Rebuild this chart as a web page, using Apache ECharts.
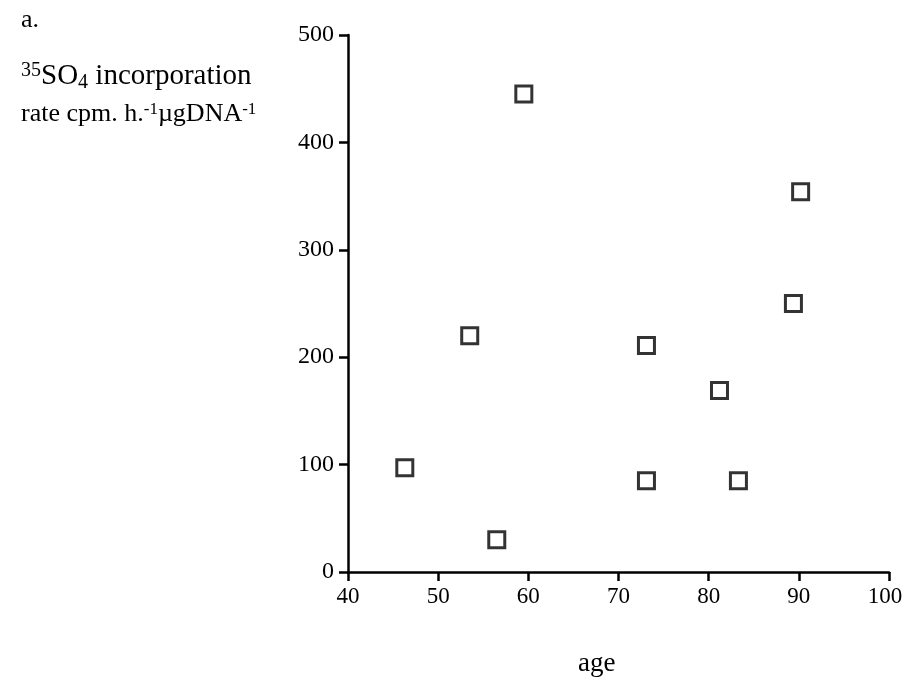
<!DOCTYPE html>
<html>
<head>
<meta charset="utf-8">
<script src="https://cdn.jsdelivr.net/npm/echarts@6/dist/echarts.min.js"></script>
<style>
html,body{margin:0;padding:0;background:#fff;}
#chart{width:904px;height:684px;}
</style>
</head>
<body>
<div id="chart"></div>
<script>
// Age of donor vs. sulphate incorporation rate
const ages = [46.3, 53.5, 56.5, 59.5, 73.1, 73.1, 81.2, 83.3, 89.4, 90.2];
const rates = [97, 220, 30, 445, 211, 85, 169, 85, 250, 354];
const xTicks = [40, 50, 60, 70, 80, 90, 100];
const yTicks = [0, 100, 200, 300, 400, 500];

const serif = '"Liberation Serif", "DejaVu Serif", serif';
const chart = echarts.init(document.getElementById('chart'));
const xMax = xTicks[xTicks.length - 1];

chart.setOption({
  backgroundColor: '#fff',
  animation: false,
  grid: { left: 348, right: 15, top: 35, bottom: 112, containLabel: false, outerBoundsMode: 'none' },
  xAxis: {
    type: 'value',
    min: xTicks[0], max: xMax, interval: 10,
    axisLine: { onZero: false, lineStyle: { color: '#000', width: 2.5 } },
    axisTick: { show: true, length: 9, lineStyle: { color: '#000', width: 2.5 } },
    axisLabel: {
      color: '#000', fontFamily: serif, fontSize: 23, margin: 13,
      // keep the last label inside the page edge
      formatter: v => v === xMax ? '{edge|' + v + '}' : String(v),
      rich: { edge: { fontFamily: serif, fontSize: 23, color: '#000', padding: [0, 8, 0, 0] } }
    },
    splitLine: { show: false }
  },
  yAxis: {
    type: 'value',
    min: yTicks[0], max: yTicks[yTicks.length - 1], interval: 100,
    axisLine: { show: true, lineStyle: { color: '#000', width: 2.5 } },
    axisTick: { show: true, length: 9, lineStyle: { color: '#000', width: 2.5 } },
    axisLabel: { color: '#000', fontFamily: serif, fontSize: 24, margin: 14 },
    splitLine: { show: false }
  },
  series: [{
    type: 'scatter',
    data: ages.map((a, i) => [a, rates[i]]),
    symbol: 'rect',
    symbolSize: 16,
    itemStyle: { color: '#fff', borderColor: '#000', borderWidth: 3 }
  }],
  graphic: [
    { type: 'text', left: 21, top: 7,
      style: { text: 'a.', font: '26px ' + serif, fill: '#000' } },
    { type: 'text', left: 21, top: 61,
      style: {
        text: '{sup|35}SO{sub|4} incorporation',
        font: '29px ' + serif, fill: '#000',
        rich: {
          sup: { fontSize: 20, fontFamily: serif, padding: [0, 0, 10, 0] },
          sub: { fontSize: 20, fontFamily: serif, padding: [13, 0, 0, 0] }
        }
      } },
    { type: 'text', left: 21, top: 101,
      style: {
        text: 'rate cpm. h.{sup|-1}µgDNA{sup|-1}',
        font: '26px ' + serif, fill: '#000',
        rich: {
          sup: { fontSize: 17, fontFamily: serif, padding: [0, 0, 9, 0] }
        }
      } },
    { type: 'text', left: 578, top: 650,
      style: { text: 'age', font: '27px ' + serif, fill: '#000' } }
  ]
});
</script>
</body>
</html>
